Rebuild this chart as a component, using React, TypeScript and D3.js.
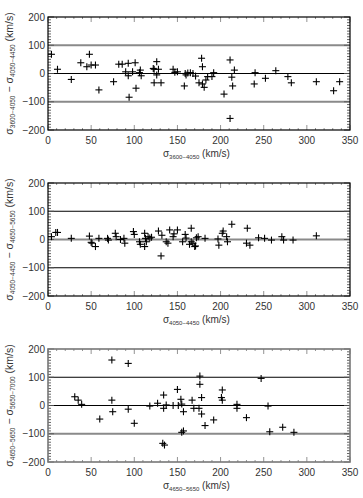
import React from "react";
import * as d3 from "d3";

// ---------- data (x = sigma of first range, y = difference) ----------
const panel1X = [4, 11, 27, 38, 48, 45, 50, 55, 59, 76, 82, 86, 93, 101, 90, 93, 94, 98, 102, 106, 107, 108, 122, 126, 123, 128, 126, 123, 131, 145, 147, 150, 158, 159, 160, 162, 165, 168, 171, 178, 179, 175, 179, 181, 183, 185, 190, 192, 204, 211, 216, 213, 214, 211, 240, 239, 252, 264, 278, 282, 311, 331, 338];
const panel1Y = [68, 15, -21, 38, 68, 24, 30, 30, -58, -29, 33, 33, 36, 38, 6, -8, -84, 6, -52, 3, 12, -8, 18, 42, 15, 15, -5, -33, -33, 15, 4, 6, -44, 0, -5, 2, 3, 0, -9, 54, 24, -33, -37, -49, -23, -11, -11, 3, -73, 48, 12, -13, -44, -159, 3, -37, -17, 10, -11, -33, -29, -61, -29];

const panel2X = [4, 9, 11, 27, 48, 50, 51, 55, 59, 69, 70, 78, 79, 84, 88, 89, 99, 100, 106, 107, 112, 113, 114, 112, 116, 118, 120, 128, 131, 132, 137, 139, 141, 145, 146, 150, 156, 159, 160, 164, 166, 166, 170, 172, 174, 171, 168, 182, 197, 198, 202, 203, 207, 208, 213, 231, 230, 234, 244, 251, 259, 271, 273, 284, 311];
const panel2Y = [10, 25, 25, 4, 12, -10, -13, -25, 4, 4, -2, 22, 10, 0, 4, -13, 28, 18, -8, -17, 22, 4, -8, -25, 10, 5, 8, 30, -58, 15, -8, -13, 34, 10, 20, 34, -8, 18, 5, -17, -8, 40, -25, 6, 10, -23, -13, 4, 2, -20, 22, 30, 10, -8, 54, 40, -13, -20, 6, 4, -2, 10, -2, -2, 13];

const panel3X = [31, 35, 39, 60, 74, 74, 75, 93, 93, 100, 118, 127, 134, 134, 137, 133, 135, 145, 150, 151, 154, 155, 157, 155, 157, 167, 169, 175, 176, 176, 178, 178, 182, 192, 202, 201, 202, 219, 219, 230, 247, 255, 257, 272, 285];
const panel3Y = [31, 19, 4, -48, 161, 19, -22, 149, -13, -63, -2, 8, 37, -10, 2, -134, -140, 0, 57, 0, 22, 5, -22, -95, -90, 19, -10, -10, 104, 75, 28, -30, -71, -51, 55, 28, 19, 4, -10, -43, 96, -2, -93, -77, -95];

const xTicks = [0, 50, 100, 150, 200, 250, 300, 350];
const yTicks = [-200, -100, 0, 100, 200];
const refLines = [-100, 0, 100];

const yLabelSubs = [
  ["3600\u22124050", "4050\u22124450"],
  ["4050\u22124450", "4650\u22125650"],
  ["4650\u22125650", "5650\u22127000"],
];
const xLabelSubs = ["3600\u22124050", "4050\u22124450", "4650\u22125650"];

// styling of reference lines per panel (gray thick vs black thin)
const grayLines = [[-100, 100], [0], [-100]];

const W = 363;
const H = 498;
const LEFT = 48;
const RIGHT = 350;
const TOPS = [17, 183, 349];
const PH = 113;
const FONT = "'Liberation Sans', Arial, Helvetica, sans-serif";

function Plus({ x, y }: { x: number; y: number }) {
  const s = 3.5;
  return (
    <g stroke="#000" strokeWidth={1.1}>
      <line x1={x - s} x2={x + s} y1={y} y2={y} />
      <line x1={x} x2={x} y1={y - s} y2={y + s} />
    </g>
  );
}

function Panel({ idx, xs, ys }: { idx: number; xs: number[]; ys: number[] }) {
  const top = TOPS[idx];
  const bottom = top + PH;
  const x = d3.scaleLinear().domain([0, 350]).range([LEFT, RIGHT]);
  const y = d3.scaleLinear().domain([-200, 200]).range([bottom, top]);
  const yMinor = d3.range(-200, 201, 10);
  const xMinor = d3.range(0, 351, 10);
  const cy = (top + bottom) / 2;
  const [s1, s2] = yLabelSubs[idx];
  return (
    <g>
      {refLines.map((v) => {
        const gray = grayLines[idx].includes(v);
        return (
          <line
            key={"r" + v}
            x1={LEFT}
            x2={RIGHT}
            y1={y(v)}
            y2={y(v)}
            stroke={gray ? "#8a8a8a" : "#000"}
            strokeWidth={gray ? 2.2 : 1}
          />
        );
      })}
      {yMinor.map((v) => {
        const major = v % 100 === 0;
        const len = major ? 6 : 3;
        return (
          <g key={"yt" + v} stroke="#555" strokeWidth={0.9}>
            <line x1={LEFT} x2={LEFT + len} y1={y(v)} y2={y(v)} />
            <line x1={RIGHT} x2={RIGHT - len} y1={y(v)} y2={y(v)} />
          </g>
        );
      })}
      {xMinor.map((v) => {
        const major = v % 50 === 0;
        const len = major ? 5 : 2;
        return (
          <g key={"xt" + v} stroke="#777" strokeWidth={0.8}>
            <line x1={x(v)} x2={x(v)} y1={bottom} y2={bottom - len} />
            <line x1={x(v)} x2={x(v)} y1={top} y2={top + len} />
          </g>
        );
      })}
      <rect
        x={LEFT}
        y={top}
        width={RIGHT - LEFT}
        height={PH}
        fill="none"
        stroke={idx === 2 ? "#777" : "#000"}
        strokeWidth={idx === 2 ? 1.6 : 1.2}
      />
      {xs.map((v, i) => (
        <Plus key={"p" + i} x={x(v)} y={y(ys[i])} />
      ))}
      {yTicks.map((v) => (
        <text
          key={"yl" + v}
          x={LEFT - 3}
          y={y(v) + 3.5}
          textAnchor="end"
          fontSize={10}
          fontFamily={FONT}
          fill="#333"
        >
          {v < 0 ? "\u2212" + Math.abs(v) : String(v)}
        </text>
      ))}
      {xTicks.map((v) => (
        <text
          key={"xl" + v}
          x={x(v)}
          y={bottom + 14}
          textAnchor="middle"
          fontSize={10}
          fontFamily={FONT}
          fill="#333"
        >
          {v}
        </text>
      ))}
      <text
        x={x(172)}
        y={bottom + 27}
        textAnchor="middle"
        fontSize={10}
        fontFamily={FONT}
        fill="#333"
      >
        σ
        <tspan fontSize={6} dy={2}>
          {xLabelSubs[idx]}
        </tspan>
        <tspan dy={-2}> (km/s)</tspan>
      </text>
      <text
        transform={`translate(13,${cy}) rotate(-90)`}
        textAnchor="middle"
        fontSize={10.5}
        fontFamily={FONT}
        fill="#333"
      >
        σ
        <tspan fontSize={6.5} dy={2}>
          {s1}
        </tspan>
        <tspan dy={-2}>{" \u2212 σ"}</tspan>
        <tspan fontSize={6.5} dy={2}>
          {s2}
        </tspan>
        <tspan dy={-2}> (km/s)</tspan>
      </text>
    </g>
  );
}

export default function App() {
  return (
    <svg
      width={W}
      height={H}
      style={{ position: "absolute", left: 0, top: 0, background: "#fff" }}
    >
      <rect x={0} y={0} width={W} height={H} fill="#fff" />
      <Panel idx={0} xs={panel1X} ys={panel1Y} />
      <Panel idx={1} xs={panel2X} ys={panel2Y} />
      <Panel idx={2} xs={panel3X} ys={panel3Y} />
    </svg>
  );
}
